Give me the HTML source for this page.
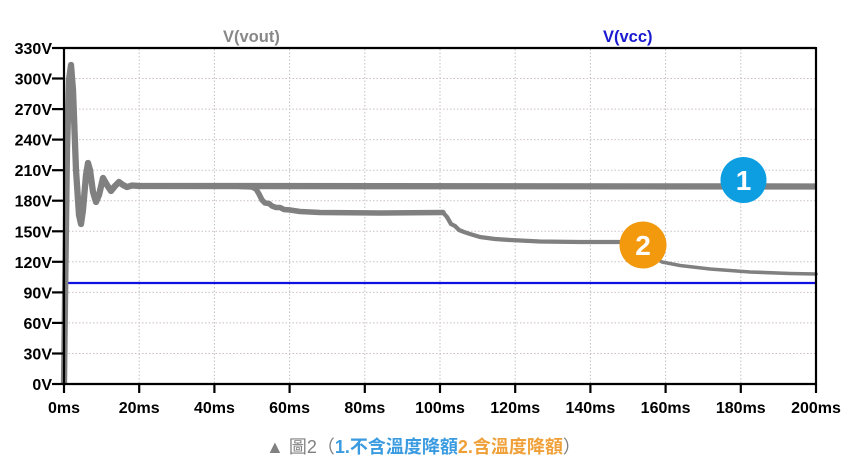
<!DOCTYPE html>
<html>
<head>
<meta charset="utf-8">
<style>
html,body{margin:0;padding:0;background:#fff;}
svg{display:block;}
</style>
</head>
<body>
<svg width="859" height="462" viewBox="0 0 859 462" xmlns="http://www.w3.org/2000/svg">
  <rect x="0" y="0" width="859" height="462" fill="#fff"/>
  <!-- grid -->
  <g stroke="#c0c0c0" stroke-width="1" stroke-dasharray="1.5,2" fill="none">
    <line x1="139.2" y1="49" x2="139.2" y2="383"/>
    <line x1="214.4" y1="49" x2="214.4" y2="383"/>
    <line x1="289.6" y1="49" x2="289.6" y2="383"/>
    <line x1="364.8" y1="49" x2="364.8" y2="383"/>
    <line x1="440" y1="49" x2="440" y2="383"/>
    <line x1="515.2" y1="49" x2="515.2" y2="383"/>
    <line x1="590.4" y1="49" x2="590.4" y2="383"/>
    <line x1="665.6" y1="49" x2="665.6" y2="383"/>
    <line x1="740.8" y1="49" x2="740.8" y2="383"/>
  </g>
  <g stroke="#cbbfc3" stroke-width="1" stroke-dasharray="1.5,2" fill="none">
    <line x1="65" y1="353.5" x2="815" y2="353.5"/>
    <line x1="65" y1="322.9" x2="815" y2="322.9"/>
    <line x1="65" y1="292.4" x2="815" y2="292.4"/>
    <line x1="65" y1="261.8" x2="815" y2="261.8"/>
    <line x1="65" y1="231.3" x2="815" y2="231.3"/>
    <line x1="65" y1="200.7" x2="815" y2="200.7"/>
    <line x1="65" y1="170.2" x2="815" y2="170.2"/>
    <line x1="65" y1="139.6" x2="815" y2="139.6"/>
    <line x1="65" y1="109.1" x2="815" y2="109.1"/>
    <line x1="65" y1="78.5" x2="815" y2="78.5"/>
  </g>

  <!-- blue V(vcc) -->
  <line x1="64" y1="283" x2="816" y2="283" stroke="#1010e0" stroke-width="2.2"/>

  <!-- trace 2 (with temperature derating) -->
  <path d="M240,186.5 L252,187 L256,189 L259,194 L262,200 L265,203 L269,203.5 L272,206 L276,207.5 L280,207.5 L284,209.5 L290,210 L300,211.5 L320,212.5 L380,213 L443,212.5"
        fill="none" stroke="#808080" stroke-width="5.5" stroke-linejoin="round" stroke-linecap="round"/>
  <path d="M443,212.5 L447,217 L451,224 L455,226 L459,230 L464,232 L470,234 L480,237 L495,239 L510,240 L540,241.5 L580,242 L625,242 L645,252"
        fill="none" stroke="#808080" stroke-width="4.3" stroke-linejoin="round" stroke-linecap="round"/>
  <path d="M645,252 L662,262 L680,265.5 L710,269 L750,272 L790,273.5 L816,274"
        fill="none" stroke="#808080" stroke-width="3.6" stroke-linejoin="round" stroke-linecap="round"/>
  <!-- trace 1 (no temperature derating) -->
  <path d="M64,384 L65,300 L67,150 L69,80 L71,65 L73,90 L76,170 L79,215 L81,224 L83,210 L86,175 L88,163 L90,170 L93,192 L96,202 L99,195 L103,178 L107,185 L111,191 L115,186 L119,182 L123,185 L127,187 L132,185.5 L140,186 L816,186.5"
        fill="none" stroke="#808080" stroke-width="6.3" stroke-linejoin="round"/>

  <!-- frame -->
  <g stroke="#000" stroke-width="2.2" fill="none">
    <line x1="64" y1="48" x2="816" y2="48"/>
    <line x1="816" y1="47" x2="816" y2="385"/>
    <line x1="64" y1="47" x2="64" y2="385"/>
    <line x1="63" y1="384" x2="817" y2="384"/>
  </g>
  <!-- ticks -->
  <g stroke="#000" stroke-width="2.2">
    <line x1="52" y1="48" x2="64" y2="48"/>
    <line x1="52" y1="78.5" x2="64" y2="78.5"/>
    <line x1="52" y1="109.1" x2="64" y2="109.1"/>
    <line x1="52" y1="139.6" x2="64" y2="139.6"/>
    <line x1="52" y1="170.2" x2="64" y2="170.2"/>
    <line x1="52" y1="200.7" x2="64" y2="200.7"/>
    <line x1="52" y1="231.3" x2="64" y2="231.3"/>
    <line x1="52" y1="261.8" x2="64" y2="261.8"/>
    <line x1="52" y1="292.4" x2="64" y2="292.4"/>
    <line x1="52" y1="322.9" x2="64" y2="322.9"/>
    <line x1="52" y1="353.5" x2="64" y2="353.5"/>
    <line x1="52" y1="384" x2="64" y2="384"/>
    <line x1="64" y1="384" x2="64" y2="393"/>
    <line x1="139.2" y1="384" x2="139.2" y2="393"/>
    <line x1="214.4" y1="384" x2="214.4" y2="393"/>
    <line x1="289.6" y1="384" x2="289.6" y2="393"/>
    <line x1="364.8" y1="384" x2="364.8" y2="393"/>
    <line x1="440" y1="384" x2="440" y2="393"/>
    <line x1="515.2" y1="384" x2="515.2" y2="393"/>
    <line x1="590.4" y1="384" x2="590.4" y2="393"/>
    <line x1="665.6" y1="384" x2="665.6" y2="393"/>
    <line x1="740.8" y1="384" x2="740.8" y2="393"/>
    <line x1="816" y1="384" x2="816" y2="393"/>
  </g>

  <!-- y labels -->
  <g font-family="Liberation Sans, Arial, sans-serif" font-weight="bold" font-size="16" fill="#000" text-anchor="end">
    <text x="52" y="54">330V</text>
    <text x="52" y="84.5">300V</text>
    <text x="52" y="115">270V</text>
    <text x="52" y="145.6">240V</text>
    <text x="52" y="176.2">210V</text>
    <text x="52" y="206.7">180V</text>
    <text x="52" y="237.3">150V</text>
    <text x="52" y="267.8">120V</text>
    <text x="52" y="298.4">90V</text>
    <text x="52" y="328.9">60V</text>
    <text x="52" y="359.5">30V</text>
    <text x="52" y="390">0V</text>
  </g>
  <!-- x labels -->
  <g font-family="Liberation Sans, Arial, sans-serif" font-weight="bold" font-size="16" fill="#000" text-anchor="middle">
    <text x="64" y="413">0ms</text>
    <text x="139.2" y="413">20ms</text>
    <text x="214.4" y="413">40ms</text>
    <text x="289.6" y="413">60ms</text>
    <text x="364.8" y="413">80ms</text>
    <text x="440" y="413">100ms</text>
    <text x="515.2" y="413">120ms</text>
    <text x="590.4" y="413">140ms</text>
    <text x="665.6" y="413">160ms</text>
    <text x="740.8" y="413">180ms</text>
    <text x="816" y="413">200ms</text>
  </g>

  <!-- legend labels -->
  <g font-family="Liberation Sans, Arial, sans-serif" font-weight="bold" font-size="16.5">
    <text x="223" y="42" fill="#888888">V(vout)</text>
    <text x="603" y="42" fill="#1a1ad0">V(vcc)</text>
  </g>

  <!-- badges -->
  <circle cx="743.5" cy="180" r="23" fill="#0c9ee0"/>
  <text x="743.5" y="190" font-family="Liberation Sans, Arial, sans-serif" font-weight="bold" font-size="28" fill="#fff" text-anchor="middle">1</text>
  <circle cx="643" cy="245" r="23.5" fill="#f2990e"/>
  <text x="643" y="255" font-family="Liberation Sans, Arial, sans-serif" font-weight="bold" font-size="28" fill="#fff" text-anchor="middle">2</text>

  <!-- caption -->
  <text x="266" y="453" font-family="Liberation Sans, 'Noto Sans CJK TC', sans-serif" font-size="18"><tspan fill="#808080">▲ 圖2（</tspan><tspan fill="#3a9be0" font-weight="bold">1.不含溫度降額</tspan><tspan fill="#f0a038" font-weight="bold">2.含溫度降額</tspan><tspan fill="#808080">）</tspan></text>
</svg>
</body>
</html>
